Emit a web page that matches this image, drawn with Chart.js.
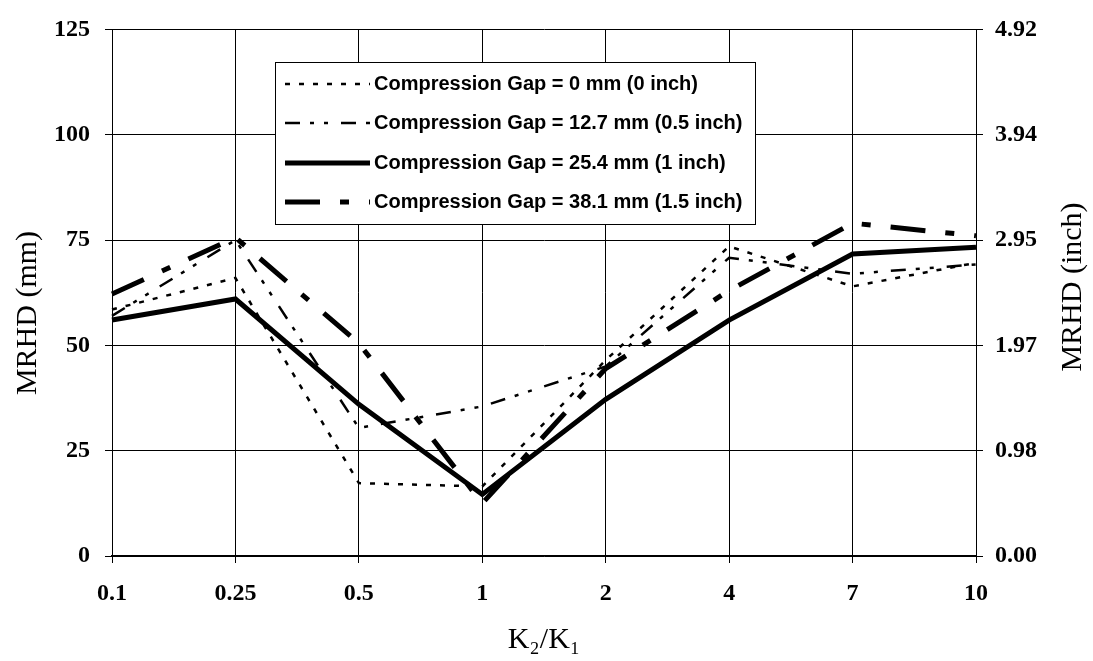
<!DOCTYPE html>
<html>
<head>
<meta charset="utf-8">
<script src="https://cdn.jsdelivr.net/npm/chart.js@4.4.1/dist/chart.umd.min.js"></script>
<style>
  html, body { margin: 0; padding: 0; background: #fff; }
  canvas { display: block; }
</style>
</head>
<body>
<canvas id="myChart" width="1093" height="661"></canvas>
<script>
// K2/K1 categories
const ratios = ['0.1', '0.25', '0.5', '1', '2', '4', '7', '10'];

// MRHD in mm, one array per compression gap
const gap0 = [58.5, 66, 17.3, 16.5, 46.5, 73.5, 64, 69.6];
const gap127 = [57, 75, 30.4, 35.5, 45, 70.8, 67, 69.2];
const gap254 = [56, 61, 36, 14.6, 37.2, 56, 71.7, 73.3];
const gap381 = [62.2, 75.6, 50.5, 12.5, 44.5, 63, 79, 76];

const seriesNames = [
  'Compression Gap = 0 mm (0 inch)',
  'Compression Gap = 12.7 mm (0.5 inch)',
  'Compression Gap = 25.4 mm (1 inch)',
  'Compression Gap = 38.1 mm (1.5 inch)'
];

const mmMax = 125;
const mmStep = 25;
const mmPerInch = 25.4;

const ctx = document.getElementById('myChart');

function lineSet(label, values, width, dash) {
  return {
    label: label,
    data: values,
    borderColor: '#000',
    backgroundColor: '#000',
    borderWidth: width,
    borderDash: dash,
    borderCapStyle: 'butt',
    pointRadius: 0,
    tension: 0,
    fill: false
  };
}

// legend box + the two rotated y titles
const extras = {
  id: 'extras',
  afterDraw(chart) {
    const c = chart.ctx;
    c.save();
    c.fillStyle = '#000';
    c.textAlign = 'center';
    c.textBaseline = 'middle';
    c.font = '30px "Liberation Serif"';

    c.save();
    c.translate(28, 313);
    c.rotate(-Math.PI / 2);
    c.fillText('MRHD (mm)', 0, 0);
    c.restore();

    c.save();
    c.translate(1073, 287);
    c.rotate(-Math.PI / 2);
    c.fillText('MRHD (inch)', 0, 0);
    c.restore();

    // legend
    c.fillStyle = '#fff';
    c.fillRect(275.5, 62.5, 480, 162);
    c.strokeStyle = '#000';
    c.lineWidth = 1;
    c.setLineDash([]);
    c.strokeRect(275.5, 62.5, 480, 162);

    const rows = [84, 123, 163, 202];
    chart.data.datasets.forEach((ds, i) => {
      const y = rows[i];
      c.beginPath();
      c.lineWidth = ds.borderWidth;
      c.setLineDash(ds.borderDash || []);
      c.moveTo(285, y);
      c.lineTo(370, y);
      c.stroke();
      c.setLineDash([]);
      c.fillStyle = '#000';
      c.textAlign = 'left';
      c.font = 'bold 20px "Liberation Sans"';
      c.fillText(ds.label, 374, y);
    });
    c.restore();
  }
};

const tickFont = { family: 'Liberation Serif', size: 24, weight: 'bold' };

let myLineChart = new Chart(ctx, {
  type: 'line',
  data: {
    labels: ratios,
    datasets: [
      lineSet(seriesNames[0], gap0, 2.5, [5, 9]),
      lineSet(seriesNames[1], gap127, 2.5, [15, 10, 4, 10, 4, 13]),
      lineSet(seriesNames[2], gap254, 5, []),
      lineSet(seriesNames[3], gap381, 5, [35, 20, 9, 20])
    ]
  },
  options: {
    responsive: false,
    animation: false,
    layout: { padding: { top: 22, left: 0, right: 0, bottom: 0 } },
    plugins: {
      legend: { display: false },
      tooltip: { enabled: false }
    },
    scales: {
      x: {
        type: 'category',
        offset: false,
        grid: { color: '#000', lineWidth: 1, tickLength: 7, offset: false },
        border: { color: '#000', width: 1.5 },
        ticks: { color: '#000', font: tickFont, padding: 16, maxRotation: 0 },
        title: {
          display: true,
          text: 'K\u2082/K\u2081',
          color: '#000',
          font: { family: 'Liberation Serif', size: 30 },
          padding: { top: 0, bottom: 3 }
        },
        afterFit(scale) { scale.height = 105; }
      },
      y: {
        position: 'left',
        min: 0,
        max: mmMax,
        grid: { color: '#000', lineWidth: 1, tickLength: 7 },
        border: { color: '#000', width: 1 },
        ticks: { stepSize: mmStep, color: '#000', font: tickFont, padding: 15 },
        afterFit(scale) { scale.width = 112; }
      },
      yInch: {
        position: 'right',
        min: 0,
        max: mmMax,
        grid: { drawOnChartArea: false, color: '#000', tickLength: 7 },
        border: { color: '#000', width: 1 },
        ticks: {
          stepSize: mmStep,
          color: '#000',
          font: tickFont,
          padding: 12,
          callback: (value) => (value / mmPerInch).toFixed(2)
        },
        afterFit(scale) { scale.width = 117; }
      }
    }
  },
  plugins: [extras]
});
</script>
</body>
</html>
